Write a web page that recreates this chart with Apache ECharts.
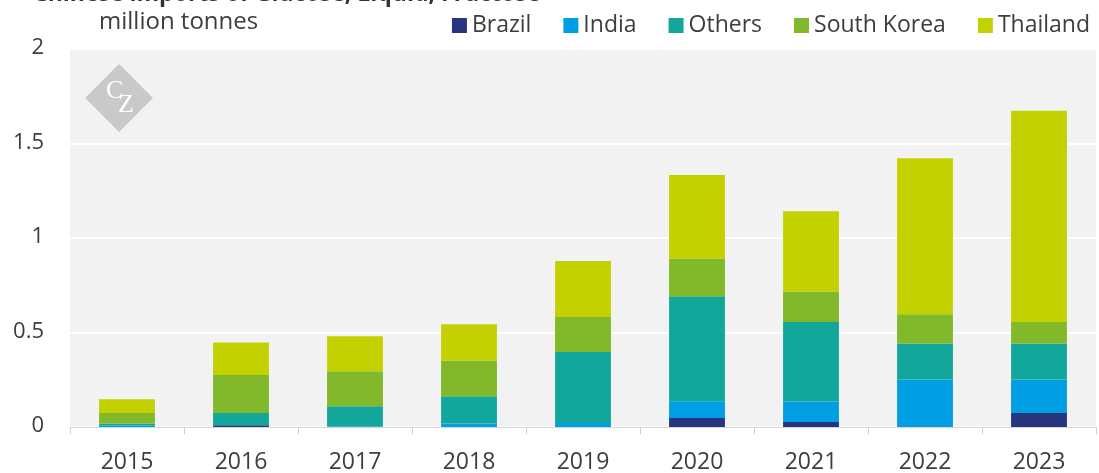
<!DOCTYPE html>
<html>
<head>
<meta charset="utf-8">
<title>Chinese imports</title>
<script src="https://cdn.jsdelivr.net/npm/echarts@6/dist/echarts.min.js"></script>
<style>
  html, body { margin: 0; padding: 0; background: #fff; }
  #chart { width: 1099px; height: 473px; }
</style>
</head>
<body>
<div id="chart"></div>
<script>
// data, million tonnes
const years = ["2015", "2016", "2017", "2018", "2019", "2020", "2021", "2022", "2023"];
const brazil = [0, 0.009, 0, 0, 0, 0.048, 0.026, 0, 0.074];
const india = [0.006, 0, 0.004, 0.018, 0.021, 0.088, 0.109, 0.251, 0.177];
const others = [0.012, 0.065, 0.106, 0.145, 0.376, 0.556, 0.421, 0.191, 0.191];
const southKorea = [0.056, 0.201, 0.185, 0.189, 0.185, 0.2, 0.161, 0.154, 0.114];
const thailand = [0.073, 0.172, 0.185, 0.191, 0.296, 0.441, 0.424, 0.826, 1.117];
const yTicks = [0, 0.5, 1, 1.5, 2];

const font = "'Open Sans', 'Noto Sans', sans-serif";
const textColor = "#3d3d3d";

const seriesDefs = [
  { name: "Brazil", data: brazil, color: "#27357e" },
  { name: "India", data: india, color: "#009fe3" },
  { name: "Others", data: others, color: "#13a79b" },
  { name: "South Korea", data: southKorea, color: "#82b92a" },
  { name: "Thailand", data: thailand, color: "#c4d100" },
];

const myChart = echarts.init(document.getElementById("chart"));
myChart.setOption({
  animation: false,
  textStyle: { fontFamily: font },
  title: {
    text: "Chinese imports of Glucose, Liquid, Fructose",
    left: 28,
    top: -22,
    textStyle: { fontFamily: font, fontSize: 23, fontWeight: "bold", color: "#333" },
  },
  legend: {
    right: 4,
    top: 9,
    icon: "rect",
    itemWidth: 15,
    itemHeight: 15,
    itemGap: 32,
    textStyle: { fontFamily: font, fontSize: 23, color: textColor },
    data: seriesDefs.map((s) => s.name),
  },
  grid: {
    left: 70,
    right: 3,
    top: 49,
    bottom: 46,
    outerBoundsMode: "none",
    containLabel: false,
    show: true,
    backgroundColor: "#f2f2f2",
    borderWidth: 0,
  },
  xAxis: {
    type: "category",
    data: years,
    axisLine: { lineStyle: { color: "#d6d6d6", width: 1 } },
    axisTick: { show: true, length: 7, lineStyle: { color: "#cfcfcf" } },
    axisLabel: { fontFamily: font, fontSize: 23, color: textColor, margin: 24 },
  },
  yAxis: {
    type: "value",
    min: yTicks[0],
    max: yTicks[yTicks.length - 1],
    interval: 0.5,
    axisLine: { show: false },
    axisTick: { show: false },
    splitLine: { lineStyle: { color: "#ffffff", width: 2 } },
    axisLabel: {
      fontFamily: font,
      fontSize: 22,
      color: textColor,
      margin: 26,
      verticalAlign: "bottom",
      lineHeight: 22,
      padding: [0, 0, -10, 0],
    },
  },
  graphic: [
    {
      type: "text",
      left: 99,
      top: 10,
      style: { text: "million tonnes", font: "24px " + font, fill: textColor },
    },
    {
      type: "group",
      x: 119,
      y: 98,
      z: 100,
      children: [
        {
          type: "rect",
          shape: { x: -24, y: -24, width: 48, height: 48 },
          rotation: Math.PI / 4,
          style: { fill: "#c9c9c9" },
        },
        {
          type: "text",
          x: -13,
          y: -20,
          style: { text: "C", font: "26px 'Liberation Serif', serif", fill: "#ffffff" },
        },
        {
          type: "text",
          x: -1,
          y: -6,
          style: { text: "Z", font: "26px 'Liberation Serif', serif", fill: "#ffffff" },
        },
      ],
    },
  ],
  series: seriesDefs.map((s) => ({
    name: s.name,
    type: "bar",
    stack: "total",
    barWidth: "49%",
    data: s.data,
    itemStyle: { color: s.color },
  })),
});
</script>
</body>
</html>
